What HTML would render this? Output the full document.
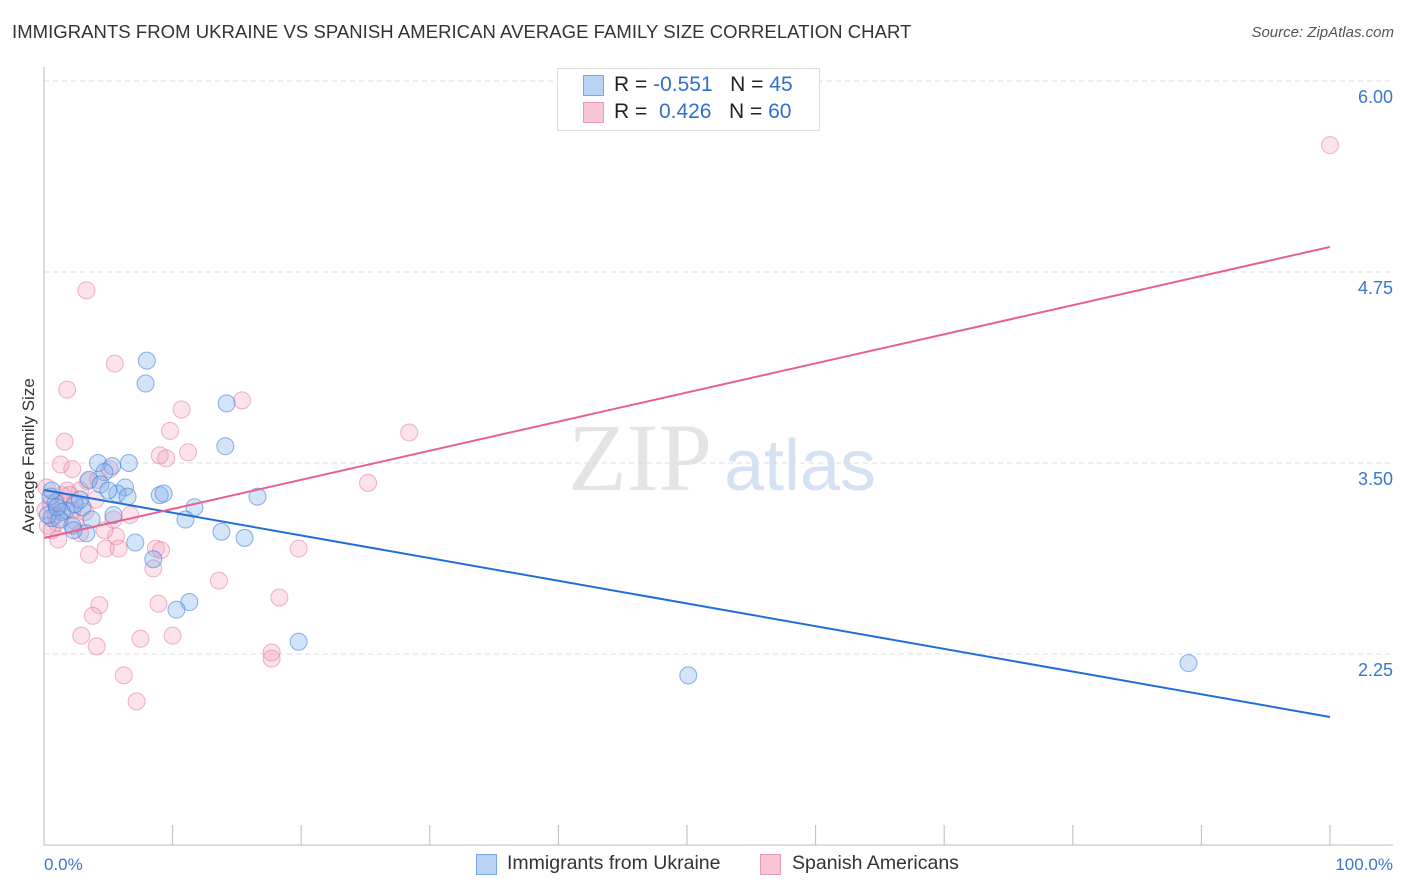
<!DOCTYPE html>
<html><head><meta charset="utf-8"><style>
body{margin:0;width:1406px;height:892px;background:#fff;font-family:"Liberation Sans",sans-serif;overflow:hidden;position:relative}
.t{position:absolute;white-space:nowrap}
</style></head><body>
<div class="t" style="left:12px;top:21px;font-size:18.5px;letter-spacing:0.05px;color:#333">IMMIGRANTS FROM UKRAINE VS SPANISH AMERICAN AVERAGE FAMILY SIZE CORRELATION CHART</div>
<div class="t" style="right:12px;top:24px;font-size:15px;color:#555;font-style:italic">Source: ZipAtlas.com</div>
<svg id="c" width="1406" height="892" style="position:absolute;left:0;top:0">
<text x="640" y="490" font-size="96" font-family="Liberation Serif" fill="#e4e4e4" text-anchor="middle">ZIP</text>
<text x="800" y="490" font-size="72" fill="#d4e2f4" text-anchor="middle">atlas</text>
<text x="34" y="456" font-size="17" fill="#333" text-anchor="middle" transform="rotate(-90 34 456)">Average Family Size</text>
<text x="44" y="870" font-size="17" fill="#3a76d0">0.0%</text>
<text x="1393" y="870" font-size="17" fill="#3a76d0" text-anchor="end">100.0%</text>
<g id="g"></g>
</svg>
<div class="t" style="left:557px;top:68px;width:261px;height:61px;border:1px solid #ddd;background:#fff"></div>
<div class="t" style="left:583px;top:75px;width:19px;height:19px;background:#b9d3f5;border:1px solid #7aa6e6"></div>
<div class="t" style="left:583px;top:102px;width:19px;height:19px;background:#f8c5d5;border:1px solid #eb9ab5"></div>
<div class="t" style="left:614px;top:73px;font-size:21px;color:#222">R = <span style="color:#2f6fd0">-0.551</span>&nbsp;&nbsp;&nbsp;N = <span style="color:#2f6fd0">45</span></div>
<div class="t" style="left:614px;top:100px;font-size:21px;color:#222">R = &nbsp;<span style="color:#2f6fd0">0.426</span>&nbsp;&nbsp;&nbsp;N = <span style="color:#2f6fd0">60</span></div>
<div class="t" style="left:476px;top:854px;width:19px;height:19px;background:#b9d3f5;border:1px solid #7aa6e6"></div>
<div class="t" style="left:507px;top:852px;font-size:19.5px;color:#333">Immigrants from Ukraine</div>
<div class="t" style="left:760px;top:854px;width:19px;height:19px;background:#f8c5d5;border:1px solid #eb9ab5"></div>
<div class="t" style="left:792px;top:852px;font-size:19.5px;color:#333">Spanish Americans</div>
<script>
const yTicks=[6.00,4.75,3.50,2.25];
const yTickLabels=["6.00","4.75","3.50","2.25"];
const xTicks=[0,10,20,30,40,50,60,70,80,90,100];
const blueX=[8.0,7.9,14.2,14.1,4.2,6.6,5.3,4.7,3.5,4.4,6.3,5.7,6.5,9.0,9.3,16.6,11.7,3.0,1.7,0.9,0.5,0.6,3.7,11.0,2.2,3.3,5.4,13.8,15.6,7.1,8.5,11.3,10.3,19.8,50.1,89.0,1.4,0.3,1.2,2.4,5.0,2.3,1.0,2.8,0.6];
const blueY=[4.17,4.02,3.89,3.61,3.50,3.50,3.48,3.44,3.39,3.36,3.34,3.30,3.28,3.29,3.30,3.28,3.21,3.21,3.19,3.24,3.28,3.14,3.13,3.13,3.09,3.04,3.16,3.05,3.01,2.98,2.87,2.59,2.54,2.33,2.11,2.19,3.18,3.16,3.13,3.23,3.32,3.06,3.21,3.26,3.32];
const pinkX=[100,3.3,5.5,1.8,15.4,10.7,1.6,9.8,28.4,2.2,1.3,9.0,11.2,9.5,25.2,5.1,3.4,4.2,1.8,2.8,1.5,2.2,0.2,0.5,0.9,1.0,5.4,2.4,1.1,2.8,5.6,4.8,5.8,8.7,9.1,19.8,3.5,8.5,13.6,18.3,8.9,4.3,3.8,2.9,10.0,7.5,4.1,17.7,17.7,6.2,7.2,0.1,2.0,4.0,6.7,0.6,1.4,3.2,4.7,0.3];
const pinkY=[5.58,4.63,4.15,3.98,3.91,3.85,3.64,3.71,3.70,3.46,3.49,3.55,3.57,3.53,3.37,3.46,3.38,3.39,3.32,3.32,3.24,3.19,3.34,3.23,3.16,3.11,3.13,3.12,3.00,3.04,3.02,2.94,2.94,2.94,2.93,2.94,2.90,2.81,2.73,2.62,2.58,2.57,2.50,2.37,2.37,2.35,2.30,2.26,2.22,2.11,1.94,3.19,3.29,3.26,3.16,3.06,3.29,3.18,3.06,3.09];
const blueTrend=[3.323,1.838];
const pinkTrend=[3.009,4.914];
const NS="http://www.w3.org/2000/svg";
const g=document.getElementById('g');
const sx=v=>44+v*12.86;
const sy=v=>463-(v-3.5)*152.8;
function mk(t,a){const e=document.createElementNS(NS,t);for(const k in a)e.setAttribute(k,a[k]);g.appendChild(e);return e;}
yTicks.forEach((v,i)=>{
 const l=mk('line',{x1:44,x2:1393,y1:sy(v),y2:sy(v),stroke:'#ddd','stroke-dasharray':'5,4'});
 
 
 const t=mk('text',{x:1393,y:sy(v)+22,'font-size':18,fill:'#3a76d0','text-anchor':'end'});
 t.textContent=yTickLabels[i];
 
 
});
const ax=mk('line',{x1:44,x2:44,y1:67,y2:845,stroke:'#bbb'});


const bx=mk('line',{x1:44,x2:1393,y1:845,y2:845,stroke:'#bbb'});


xTicks.forEach(v=>{
 const t=mk('line',{x1:sx(v),x2:sx(v),y1:825,y2:845,stroke:'#bbb'});
 
 
});
function pts(X,Y,fill,stroke,name){X.forEach((x,i)=>{
 const c=mk('circle',{cx:sx(x),cy:sy(Y[i]),r:8.5,fill:fill,stroke:stroke,'stroke-width':1});
 
 
});}
pts(pinkX,pinkY,'rgba(242,160,188,0.3)','rgba(230,120,155,0.55)','spanish-american-point');
pts(blueX,blueY,'rgba(130,175,235,0.35)','rgba(60,130,220,0.6)','ukraine-point');
const lb=mk('line',{x1:sx(0),y1:sy(blueTrend[0]),x2:sx(100),y2:sy(blueTrend[1]),stroke:'#1f6fd9','stroke-width':2});


const lp=mk('line',{x1:sx(0),y1:sy(pinkTrend[0]),x2:sx(100),y2:sy(pinkTrend[1]),stroke:'#e8608f','stroke-width':2});


</script>
</body></html>
